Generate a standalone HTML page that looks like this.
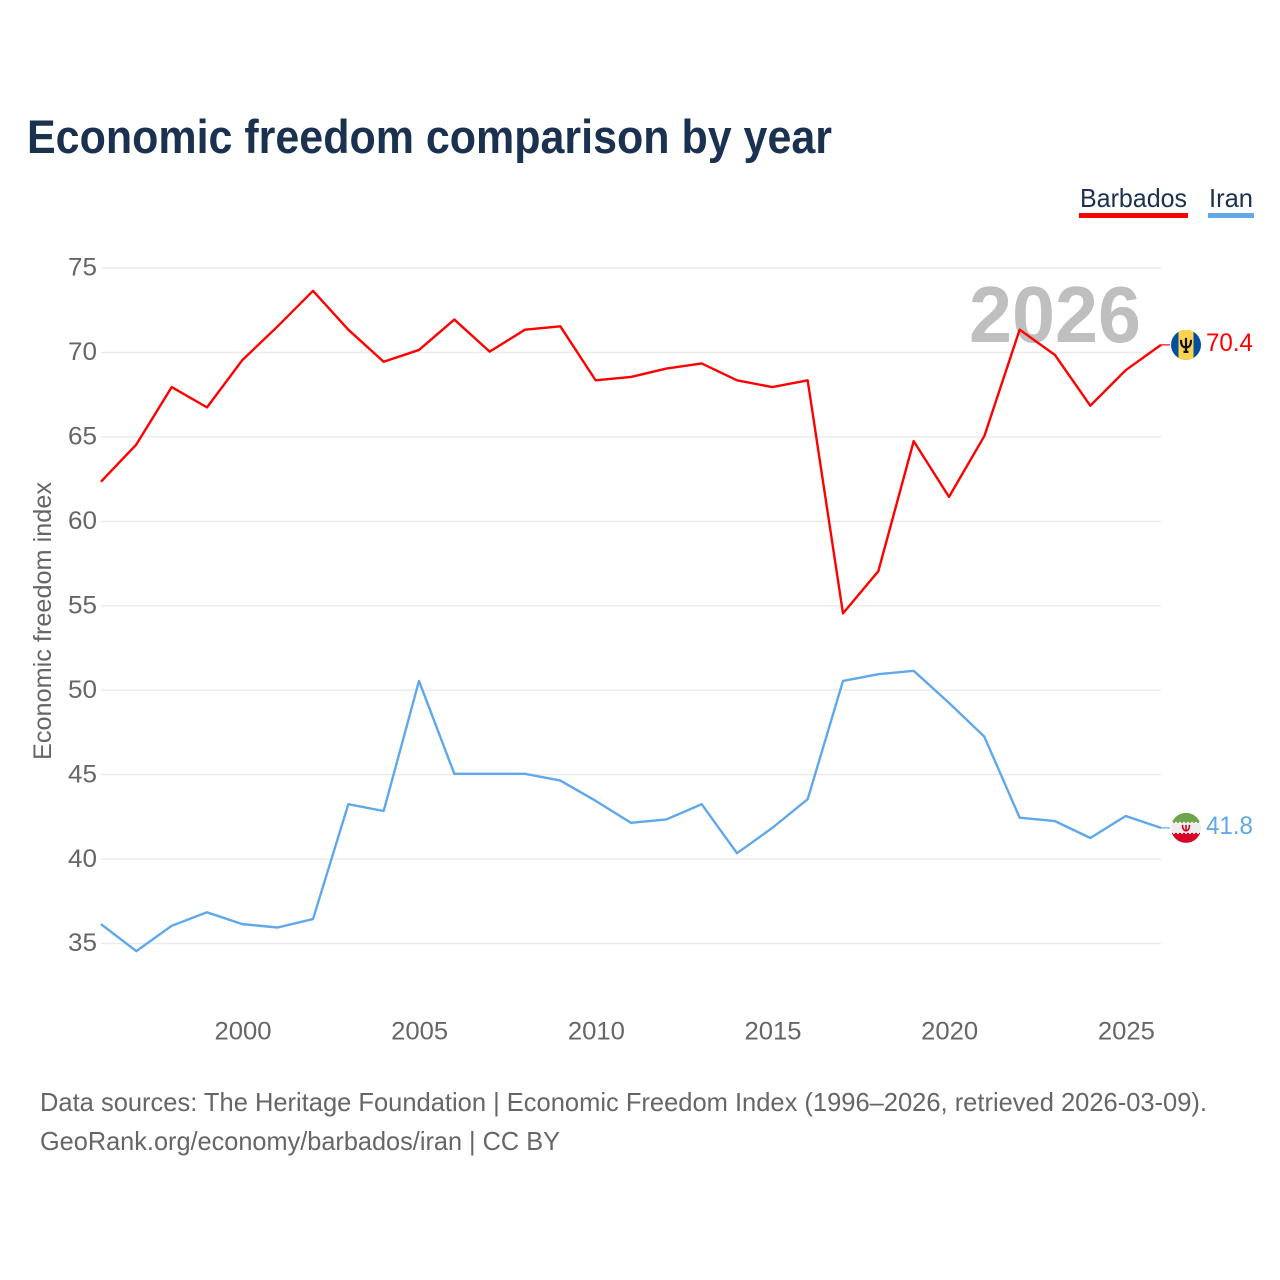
<!DOCTYPE html>
<html lang="en">
<head>
<meta charset="utf-8">
<title>Economic freedom comparison by year</title>
<style>
html,body{margin:0;padding:0;background:#fff;width:1280px;height:1280px;overflow:hidden}
svg{display:block}
text{font-family:"Liberation Sans",sans-serif}
</style>
</head>
<body>
<svg id="chart" xmlns="http://www.w3.org/2000/svg" width="1280" height="1280" viewBox="0 0 1280 1280">
  <rect width="1280" height="1280" fill="#ffffff"/>
  <text x="27" y="153" font-size="47" font-weight="700" fill="#1a3150" textLength="805" lengthAdjust="spacingAndGlyphs">Economic freedom comparison by year</text>
  <g id="gridlines"></g>
  <text x="969" y="342" font-size="80" font-weight="700" fill="#bfbfbf" textLength="172" lengthAdjust="spacingAndGlyphs">2026</text>
  <g id="yticks"></g>
  <g id="xticks"></g>
  <text transform="translate(51,621) rotate(-90)" text-anchor="middle" font-size="25" fill="#666666" textLength="278" lengthAdjust="spacingAndGlyphs">Economic freedom index</text>
  <g id="series"></g>

  <g>
    <text x="1080" y="207" font-size="26" fill="#1a3150" textLength="107" lengthAdjust="spacingAndGlyphs">Barbados</text>
    <rect x="1079" y="213" width="109" height="5" fill="#ff0000"/>
  </g>
  <g>
    <text x="1209" y="207" font-size="26" fill="#1a3150" textLength="44" lengthAdjust="spacingAndGlyphs">Iran</text>
    <rect x="1208" y="213" width="46" height="5" fill="#5fa8ec"/>
  </g>

  <defs>
    <clipPath id="flagClipA"><circle cx="0" cy="0" r="15"/></clipPath>
  </defs>
  <g id="flag-barbados">
    <g clip-path="url(#flagClipA)">
      <rect x="-15" y="-15" width="30" height="30" fill="#00509f"/>
      <rect x="-7.5" y="-15" width="15" height="30" fill="#ffd34d"/>
    </g>
    <path d="M0,-7V8M-2.5,7H2.5M-5,-5C-5,1 -3,2.5 0,2.5C3,2.5 5,1 5,-5" fill="none" stroke="#111" stroke-width="2.2"/>
  </g>
  <g id="flag-iran">
    <g clip-path="url(#flagClipA)">
      <rect x="-15" y="-15" width="30" height="11" fill="#6ea54a"/>
      <rect x="-15" y="-5" width="30" height="11" fill="#eeeeee"/>
      <rect x="-15" y="6" width="30" height="9" fill="#d80027"/>
      <line x1="-15" x2="15" y1="-5" y2="-5" stroke="#eeeeee" stroke-width="2" stroke-dasharray="2 2"/>
      <line x1="-15" x2="15" y1="6" y2="6" stroke="#d80027" stroke-width="2" stroke-dasharray="2 2"/>
    </g>
    <path d="M0,-3V3M-3.5,-3C-3.5,1.5 -1.5,3 0,3C1.5,3 3.5,1.5 3.5,-3" fill="none" stroke="#d80027" stroke-width="1.6"/>
  </g>
  <g id="endlabels"></g>

  <text x="40" y="1111" font-size="26" fill="#666666" textLength="1167" lengthAdjust="spacingAndGlyphs">Data sources: The Heritage Foundation | Economic Freedom Index (1996–2026, retrieved 2026-03-09).</text>
  <text x="40" y="1150" font-size="26" fill="#666666" textLength="520" lengthAdjust="spacingAndGlyphs">GeoRank.org/economy/barbados/iran | CC BY</text>
</svg>
<script>
const years = [1996,1997,1998,1999,2000,2001,2002,2003,2004,2005,2006,2007,2008,2009,2010,2011,2012,2013,2014,2015,2016,2017,2018,2019,2020,2021,2022,2023,2024,2025,2026];
const barbadosValues = [62.3,64.5,67.9,66.7,69.5,71.5,73.6,71.3,69.4,70.1,71.9,70.0,71.3,71.5,68.3,68.5,69.0,69.3,68.3,67.9,68.3,54.5,57.0,64.7,61.4,65.0,71.3,69.8,66.8,68.9,70.4];
const iranValues = [36.1,34.5,36.0,36.8,36.1,35.9,36.4,43.2,42.8,50.5,45.0,45.0,45.0,44.6,43.4,42.1,42.3,43.2,40.3,41.8,43.5,50.5,50.9,51.1,49.2,47.2,42.4,42.2,41.2,42.5,41.8];
const yTickValues = [35,40,45,50,55,60,65,70,75];
const xTickValues = [2000,2005,2010,2015,2020,2025];

const NS = 'http://www.w3.org/2000/svg';
const xScale = function (year) { return 101 + (year - 1996) * (1161 - 101) / 30; };
const yScale = function (value) { return 943.5 - (value - 35) * (943.5 - 268) / 40; };

const gridGroup = document.getElementById('gridlines');
const yGroup = document.getElementById('yticks');
const xGroup = document.getElementById('xticks');
const seriesGroup = document.getElementById('series');
const endGroup = document.getElementById('endlabels');

yTickValues.forEach(function (v) {
  const line = document.createElementNS(NS, 'line');
  
  
  line.setAttribute('x1', 101);
  line.setAttribute('x2', 1161);
  line.setAttribute('y1', yScale(v));
  line.setAttribute('y2', yScale(v));
  line.setAttribute('stroke', '#ebebeb');
  line.setAttribute('stroke-width', 1.5);
  gridGroup.appendChild(line);

  const label = document.createElementNS(NS, 'text');
  
  
  label.setAttribute('x', 97);
  label.setAttribute('y', yScale(v) + 7.7);
  label.setAttribute('text-anchor', 'end');
  label.setAttribute('font-size', 25);
  label.setAttribute('fill', '#666666');
  label.setAttribute('textLength', 29);
  label.setAttribute('lengthAdjust', 'spacingAndGlyphs');
  label.textContent = String(v);
  yGroup.appendChild(label);
});

xTickValues.forEach(function (y) {
  const label = document.createElementNS(NS, 'text');
  
  
  label.setAttribute('x', xScale(y) - 27.8);
  label.setAttribute('y', 1039.5);
  label.setAttribute('font-size', 25);
  label.setAttribute('fill', '#666666');
  label.setAttribute('textLength', 57);
  label.setAttribute('lengthAdjust', 'spacingAndGlyphs');
  label.textContent = String(y);
  xGroup.appendChild(label);
});

function drawSeries(values, color, lineName, connectorName, valueName, flagId) {
  const last = values[values.length - 1];
  const lastY = yScale(last) - 0.8;
  const path = document.createElementNS(NS, 'path');
  
  
  path.setAttribute('d', values.map(function (v, i) {
    return (i ? 'L' : 'M') + xScale(years[i]).toFixed(2) + ',' + (yScale(v) - 0.8).toFixed(2);
  }).join(''));
  path.setAttribute('fill', 'none');
  path.setAttribute('stroke', color);
  path.setAttribute('stroke-width', 2.4);
  path.setAttribute('stroke-linejoin', 'round');
  seriesGroup.appendChild(path);

  const connector = document.createElementNS(NS, 'line');
  
  
  connector.setAttribute('x1', 1161);
  connector.setAttribute('x2', 1170);
  connector.setAttribute('y1', lastY);
  connector.setAttribute('y2', lastY);
  connector.setAttribute('stroke', color);
  connector.setAttribute('stroke-width', 1.2);
  seriesGroup.appendChild(connector);

  document.getElementById(flagId).setAttribute('transform', 'translate(1186,' + lastY + ')');

  const text = document.createElementNS(NS, 'text');
  
  
  text.setAttribute('x', 1206);
  text.setAttribute('y', lastY + 6);
  text.setAttribute('font-size', 25);
  text.setAttribute('fill', color);
  text.setAttribute('textLength', 47);
  text.setAttribute('lengthAdjust', 'spacingAndGlyphs');
  text.textContent = last.toFixed(1);
  endGroup.appendChild(text);
}

drawSeries(barbadosValues, '#ff0000', 'barbados-line', 'barbados-connector', 'barbados-end-value', 'flag-barbados');
drawSeries(iranValues, '#5fa8ec', 'iran-line', 'iran-connector', 'iran-end-value', 'flag-iran');
</script>
</body>
</html>
